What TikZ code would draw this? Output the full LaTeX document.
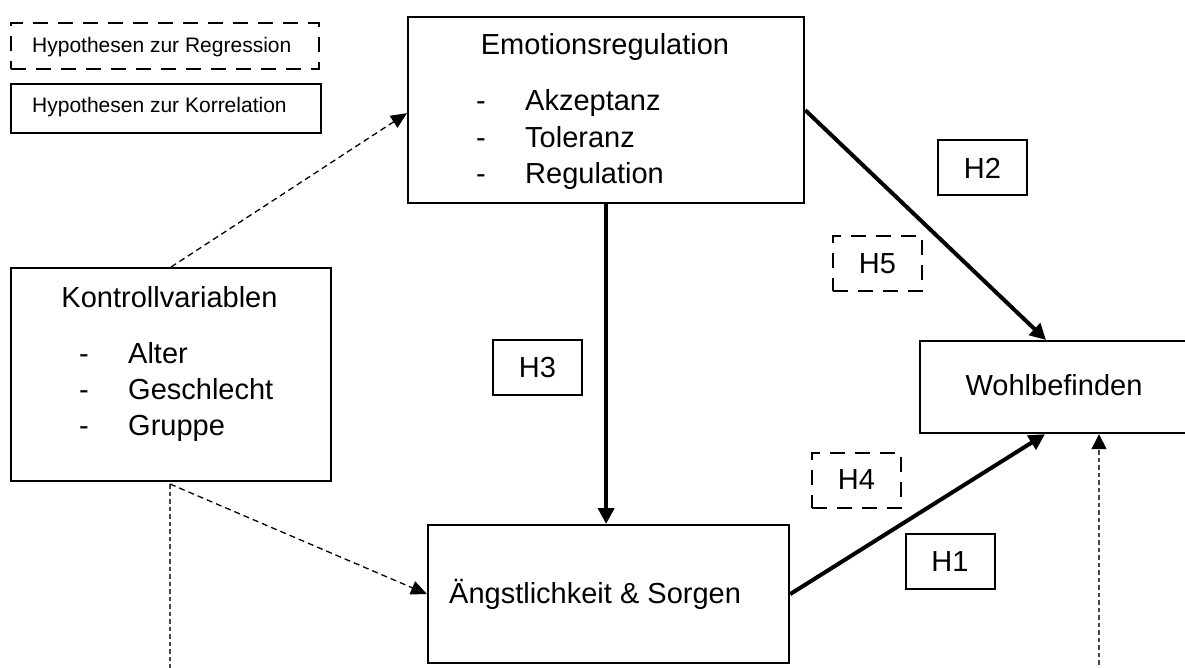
\documentclass[tikz,border=0pt]{standalone}
\usepackage{fontspec}
\setmainfont{Liberation Sans}
\usetikzlibrary{arrows.meta,calc}
\begin{document}
\begin{tikzpicture}[x=1pt,y=-1pt,
  txt/.style={inner sep=0pt, font=\fontsize{29}{35}\selectfont},
  legtxt/.style={inner sep=0pt, font=\fontsize{21}{25}\selectfont},
  bigbox/.style={draw=black, line width=2.2pt, rectangle, inner sep=0pt, anchor=north west},
  hbox/.style={draw=black, line width=2pt, rectangle, inner sep=0pt, minimum width=89pt, minimum height=55pt, font=\fontsize{29}{35}\selectfont},
  hdash/.style={hbox, dash pattern=on 15pt off 10pt},
  thinarrow/.style={draw=black, line width=1.3pt, dash pattern=on 6pt off 4pt, -{Triangle[length=16pt,width=14pt]}},
  grayline/.style={draw=black!72, line width=1.3pt, dash pattern=on 4.5pt off 3pt},
  thickarrow/.style={draw=black, line width=4pt, -{Triangle[length=16pt,width=16pt]}}
]
\path[use as bounding box] (0,0) rectangle (1185,668);
\clip (0,0) rectangle (1185,668);

% legend
\node[bigbox, line width=2pt, dash pattern=on 15pt off 10pt, minimum width=308pt, minimum height=46pt] (legreg) at (10,22) {};
\node[legtxt, anchor=base west] (legregt) at (32,53) {Hypothesen zur Regression};
\node[bigbox, line width=2pt, minimum width=310pt, minimum height=49pt] (legkor) at (10,83) {};
\node[legtxt, anchor=base west] (legkort) at (32,113) {Hypothesen zur Korrelation};

% Emotionsregulation
\node[bigbox, minimum width=396pt, minimum height=186pt] (emo) at (407,16) {};
\node[txt, anchor=base] (emot) at (605,55) {Emotionsregulation};
\foreach \t/\y/\n in {Akzeptanz/111/a, Toleranz/148/b, Regulation/184/c}{
  \node[txt, anchor=base west] (emod\n) at (476,\y) {-};
  \node[txt, anchor=base west] (emoi\n) at (525,\y) {\t};
}

% Kontrollvariablen
\node[bigbox, minimum width=320pt, minimum height=213pt] (kon) at (10,267) {};
\node[txt, anchor=base] (kont) at (169.5,307) {Kontrollvariablen};
\foreach \t/\y/\n in {Alter/363/a, Geschlecht/399/b, Gruppe/435/c}{
  \node[txt, anchor=base west] (kond\n) at (79,\y) {-};
  \node[txt, anchor=base west] (koni\n) at (128,\y) {\t};
}

% Wohlbefinden
\node[bigbox, minimum width=290pt, minimum height=92pt] (wohl) at (919,340) {};
\node[txt, anchor=base] (wohlt) at (1054,395) {Wohlbefinden};

% Aengstlichkeit
\node[bigbox, minimum width=361pt, minimum height=138pt] (ang) at (427,524) {};
\node[txt, anchor=base west] (angt) at (449,603) {Ängstlichkeit \& Sorgen};

% hypothesis labels
\node[hbox] (h2) at (982.5,168) {H2};
\node[hdash] (h5) at (877.5,263.5) {H5};
\node[hbox] (h3) at (537.5,367.5) {H3};
\node[hdash] (h4) at (856.5,480) {H4};
\node[hbox] (h1) at (950,561.5) {H1};

% connectors
\coordinate (konb) at (170,484);
\coordinate (konend) at (170,672);
\coordinate (wohlin) at (1099,672);
\draw[thinarrow] (kon.north) -- ([yshift=-3pt]emo.west);
\draw[grayline] (konb) -- (konend);
\draw[thinarrow] (konb) -- (ang.west);
\draw[grayline, -{Triangle[length=15pt,width=15pt,color=black]}] (wohlin) -- (wohlin |- wohl.south);
\draw[thickarrow] (emo.east) -- ($(wohl.north west)+(127,0)$);
\draw[thickarrow] (emo.south) -- (emo.south |- ang.north);
\draw[thickarrow] (ang.east) -- ($(wohl.south west)+(126,0)$);
\end{tikzpicture}
\end{document}
